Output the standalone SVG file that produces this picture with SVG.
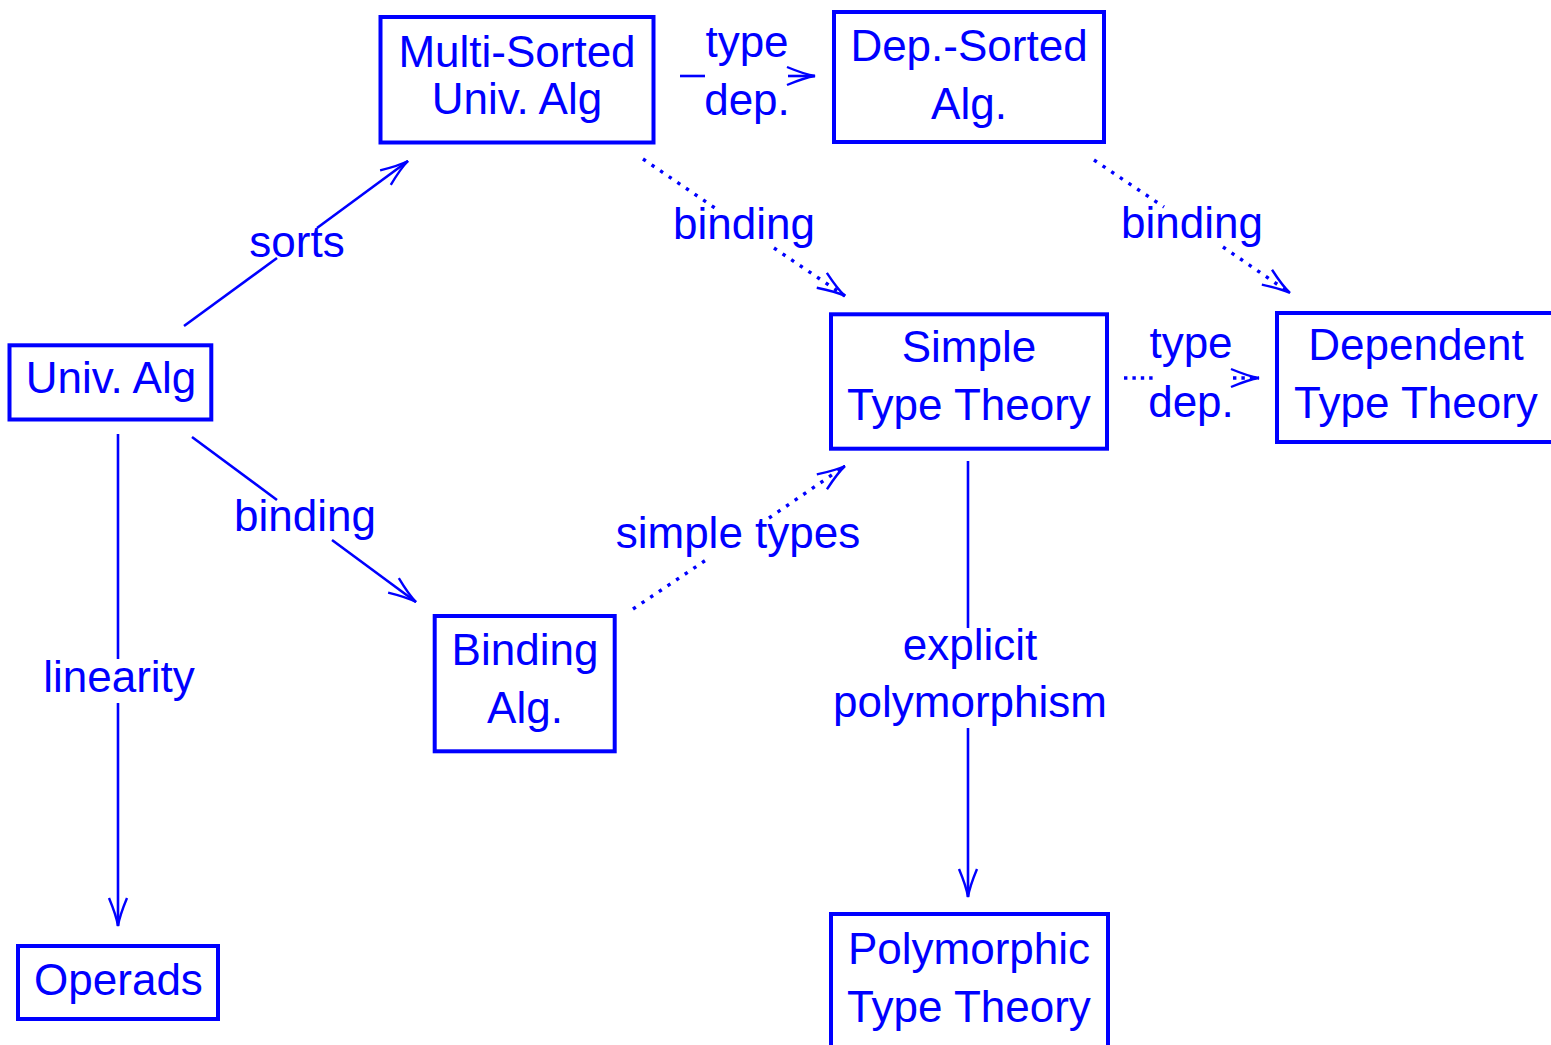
<svg xmlns="http://www.w3.org/2000/svg" width="1551" height="1045" viewBox="0 0 1551 1045">
  <style>
    .box { fill: #fff; stroke: #0000ff; stroke-width: 4; }
    .lbl { fill: #0000ff; font-family: "Liberation Sans", Arial, sans-serif; font-size: 44px; text-anchor: middle; }
    .solid { fill: none; stroke: #0000ff; stroke-width: 2.6; }
    .dot { fill: none; stroke: #0000ff; stroke-width: 3.4; stroke-dasharray: 3.4 7; }
    .doth { fill: none; stroke: #0000ff; stroke-width: 3.4; stroke-dasharray: 3.4 5; }
  </style>
  <defs>
    <marker id="arrow" markerUnits="userSpaceOnUse" viewBox="-31 -12 33 24" markerWidth="33" markerHeight="24" refX="0" refY="0" orient="auto" overflow="visible">
      <path d="M -28 -9 Q -10 -1.5 0 0 Q -10 1.5 -28 9" fill="none" stroke="#0000ff" stroke-width="2.4" stroke-dasharray="none"/>
    </marker>
  </defs>
  <rect width="1551" height="1045" fill="#fff"/>

  <!-- nodes -->
  <g id="multi-sorted">
    <rect class="box" x="380.5" y="17" width="273" height="125.5"/>
    <text class="lbl" x="517" y="67">Multi-Sorted</text>
    <text class="lbl" x="517" y="114">Univ. Alg</text>
  </g>
  <g id="dep-sorted">
    <rect class="box" x="834" y="12" width="270" height="130"/>
    <text class="lbl" x="969" y="61">Dep.-Sorted</text>
    <text class="lbl" x="969" y="119">Alg.</text>
  </g>
  <g id="univ-alg">
    <rect class="box" x="9.5" y="345.3" width="201.8" height="74.2"/>
    <text class="lbl" x="111" y="393">Univ. Alg</text>
  </g>
  <g id="simple-tt">
    <rect class="box" x="831" y="314.3" width="276" height="134.4"/>
    <text class="lbl" x="969" y="362">Simple</text>
    <text class="lbl" x="969" y="420">Type Theory</text>
  </g>
  <g id="dependent-tt">
    <rect class="box" x="1277" y="313" width="290" height="129"/>
    <text class="lbl" x="1416" y="360">Dependent</text>
    <text class="lbl" x="1416" y="418">Type Theory</text>
  </g>
  <g id="binding-alg">
    <rect class="box" x="434.7" y="616" width="180" height="135.3"/>
    <text class="lbl" x="525" y="665">Binding</text>
    <text class="lbl" x="525" y="723">Alg.</text>
  </g>
  <g id="operads">
    <rect class="box" x="18" y="946" width="200" height="73"/>
    <text class="lbl" x="118.5" y="995">Operads</text>
  </g>
  <g id="polymorphic-tt">
    <rect class="box" x="831" y="914" width="277" height="140"/>
    <text class="lbl" x="969" y="964">Polymorphic</text>
    <text class="lbl" x="969" y="1022">Type Theory</text>
  </g>

  <!-- connectors -->
  <g id="connectors">
    <!-- sorts -->
    <path class="solid" d="M 184 326 L 277 258"/>
    <path class="solid" d="M 317 228 L 408 161" marker-end="url(#arrow)"/>
    <text class="lbl" x="297" y="257">sorts</text>

    <!-- type dep. (algebras) -->
    <path class="solid" d="M 680 76 L 705 76" stroke-width="3.6"/>
    <path class="solid" d="M 788 76 L 815 76" stroke-width="3.6" marker-end="url(#arrow)"/>
    <text class="lbl" x="747" y="57">type</text>
    <text class="lbl" x="747" y="115">dep.</text>

    <!-- binding: multi-sorted to simple type theory -->
    <path class="dot" d="M 643 159 L 715 208"/>
    <path class="dot" d="M 774 248 L 845 296" marker-end="url(#arrow)"/>
    <text class="lbl" x="744" y="239">binding</text>

    <!-- binding: dep.-sorted to dependent type theory -->
    <path class="dot" d="M 1094 160 L 1164 207"/>
    <path class="dot" d="M 1223 247 L 1290 293" marker-end="url(#arrow)"/>
    <text class="lbl" x="1192" y="238">binding</text>

    <!-- type dep. (type theories) -->
    <path class="doth" d="M 1124 378 L 1154 378"/>
    <path class="doth" d="M 1233 378 L 1259 378" marker-end="url(#arrow)"/>
    <text class="lbl" x="1191" y="358">type</text>
    <text class="lbl" x="1191" y="417">dep.</text>

    <!-- binding: univ. alg to binding alg -->
    <path class="solid" d="M 192 437 L 277 500"/>
    <path class="solid" d="M 332 540 L 416 602" marker-end="url(#arrow)"/>
    <text class="lbl" x="305" y="531">binding</text>

    <!-- simple types -->
    <path class="dot" d="M 633 609 L 709 558"/>
    <path class="dot" d="M 769 518 L 845 466" marker-end="url(#arrow)"/>
    <text class="lbl" x="738" y="548">simple types</text>

    <!-- linearity -->
    <path class="solid" d="M 118 434 L 118 659"/>
    <path class="solid" d="M 118 703 L 118 926" marker-end="url(#arrow)"/>
    <text class="lbl" x="119" y="692">linearity</text>

    <!-- explicit polymorphism -->
    <path class="solid" d="M 968 461 L 968 628"/>
    <path class="solid" d="M 968 728 L 968 897" marker-end="url(#arrow)"/>
    <text class="lbl" x="970" y="660">explicit</text>
    <text class="lbl" x="970" y="717">polymorphism</text>
  </g>
</svg>
